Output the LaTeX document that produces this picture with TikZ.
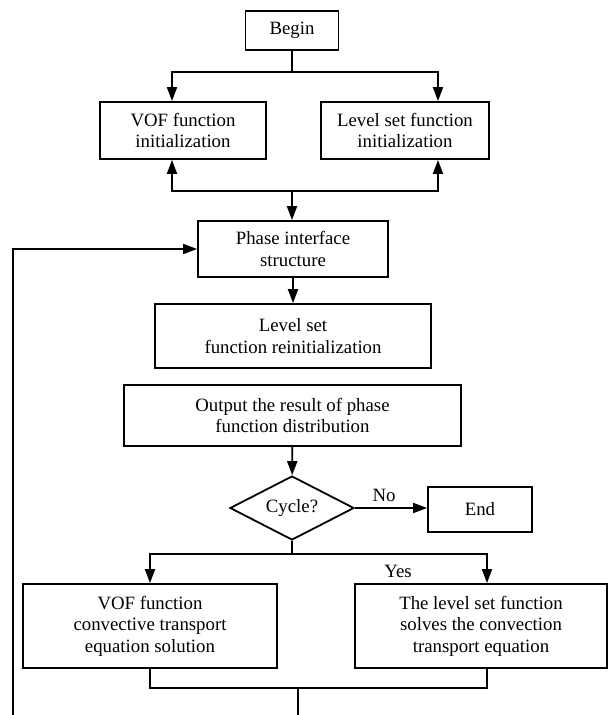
\documentclass[tikz,border=0pt]{standalone}
\usepackage{fontspec}
\setmainfont{Liberation Serif}
\usetikzlibrary{shapes.geometric,arrows.meta}

\begin{document}
\begin{tikzpicture}[x=1pt,y=-1pt,line width=1.8pt,>={Triangle[length=14pt,width=10pt]},
   every node/.style={font=\fontsize{18.8}{21.5}\selectfont,align=center,inner sep=0pt},
   box/.style={draw,rectangle}]
   \useasboundingbox (0,0) rectangle (609,715);
   \node[box,minimum width=93pt,minimum height=39pt] (begin) at (292,30.5) {Begin};
   \node[box,minimum width=166pt,minimum height=57pt] (vofinit) at (183,130.5) {VOF function\\initialization};
   \node[box,minimum width=168pt,minimum height=57pt] (lsinit) at (405,130.5) {Level set function\\initialization};
   \node[box,minimum width=190pt,minimum height=56pt] (phase) at (293,249) {Phase interface\\structure};
   \node[box,minimum width=276pt,minimum height=64pt] (reinit) at (293,336) {Level set\\function reinitialization};
   \node[box,minimum width=337pt,minimum height=61pt] (output) at (292.5,415.5) {Output the result of phase\\function distribution};
   \node[draw,diamond,aspect=1.94,minimum width=124pt,minimum height=64pt] (cycle) at (292,508) {Cycle?};
   \node[box,minimum width=104pt,minimum height=45pt] (end) at (480,509.5) {End};
   \node (yes) at (398,571) {Yes};
   \node[box,minimum width=254pt,minimum height=84pt] (vofconv) at (150,626) {VOF function\\convective transport\\equation solution};
   \node[box,minimum width=252pt,minimum height=84pt] (lsconv) at (481,626) {The level set function\\solves the convection\\transport equation};

   \coordinate (j1) at (292,72);
   \coordinate (j2) at (292,191);
   \coordinate (j3) at (292,554);
   \coordinate (j4) at (298,688);
   \coordinate (bot) at (298,715);
   \coordinate (fb) at (13,715);

   \draw (begin) -- (j1);
   \draw[->] (j1) -| ([xshift=-11pt]vofinit.north);
   \draw[->] (j1) -| ([xshift=33pt]lsinit.north);
   \draw[->] (j2) -| ([xshift=-11pt]vofinit.south);
   \draw[->] (j2) -| ([xshift=33pt]lsinit.south);
   \draw[->] (j2) -- (j2 |- phase.north);
   \draw[->] (phase) -- (reinit);
   \draw[->] (output) -- (cycle);
   \draw[->] (cycle.east) -- node[above=5pt,xshift=-7pt] {No} (cycle.east -| end.west);
   \draw (cycle) -- (j3);
   \draw[->] (j3) -| (vofconv.north);
   \draw[->] (j3) -| ([xshift=6pt]lsconv.north);
   \draw (vofconv.south) |- (j4) -| ([xshift=6pt]lsconv.south);
   \draw (j4) -- (bot);
   \draw[->] (fb) |- (phase.west);
\end{tikzpicture}
\end{document}
